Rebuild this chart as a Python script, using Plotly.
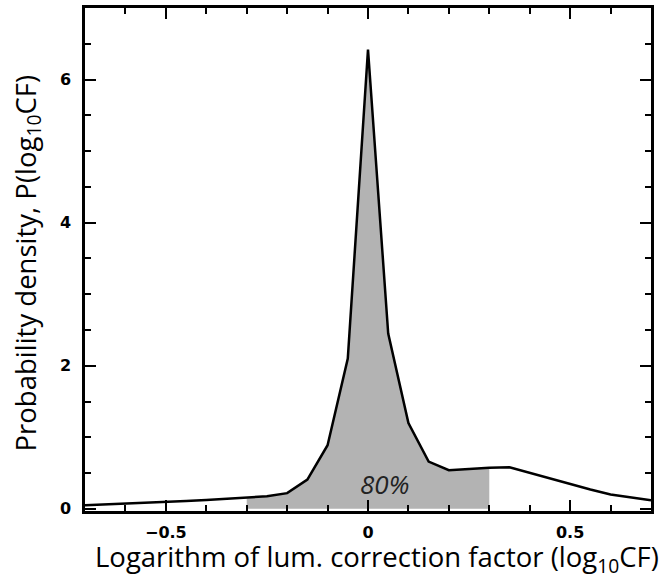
import plotly.graph_objects as go

# Data
log_cf = [-0.70, -0.65, -0.60, -0.55, -0.50, -0.45, -0.40, -0.35, -0.30, -0.25,
          -0.20, -0.15, -0.10, -0.05, 0.00, 0.05, 0.10, 0.15, 0.20, 0.25,
          0.30, 0.35, 0.40, 0.45, 0.50, 0.55, 0.60, 0.65, 0.70]
density = [0.05, 0.06, 0.07, 0.085, 0.10, 0.11, 0.125, 0.14, 0.155, 0.175,
           0.22, 0.41, 0.89, 2.10, 6.42, 2.45, 1.20, 0.66, 0.54, 0.56,
           0.575, 0.58, 0.50, 0.42, 0.35, 0.27, 0.20, 0.155, 0.12]
shade_lo, shade_hi = -0.30, 0.30
shade_label = "80%"
x_title = "Logarithm of lum. correction factor (log<sub>10</sub>CF)"
y_title = "Probability density, P(log<sub>10</sub>CF)"

shade_x = [x for x in log_cf if shade_lo - 1e-9 <= x <= shade_hi + 1e-9]
shade_y = [y for x, y in zip(log_cf, density) if shade_lo - 1e-9 <= x <= shade_hi + 1e-9]

fig = go.Figure()
fig.add_trace(go.Scatter(x=shade_x, y=shade_y, mode="lines", fill="tozeroy",
                         fillcolor="#b3b3b3", line=dict(color="white", width=1),
                         hoverinfo="skip", showlegend=False))
fig.add_trace(go.Scatter(x=log_cf, y=density, mode="lines",
                         line=dict(color="black", width=2.5), showlegend=False))

fig.add_annotation(x=0.04, y=0.35, xref="x", yref="y", text=shade_label, showarrow=False,
                   font=dict(family="Open Sans", size=26, color="#222", style="italic"))

W, H = 666, 579
L, R, T, B = 85, 15, 5, 68
pw, ph = W - L - R, H - T - B

fig.add_annotation(x=(376.5 - L) / pw, y=(H - B - 559) / ph, xref="paper", yref="paper",
                   text=x_title, showarrow=False, xanchor="center", yanchor="middle",
                   borderpad=0,
                   font=dict(family="Open Sans", size=27.5, color="black"))
fig.add_annotation(x=(27 - L) / pw, y=(H - B - 262) / ph, xref="paper", yref="paper",
                   text=y_title, showarrow=False, textangle=-90, xanchor="center", yanchor="middle",
                   borderpad=0,
                   font=dict(family="Open Sans", size=27.5, color="black"))

axis_common = dict(showgrid=False, zeroline=False, showline=True, linecolor="black",
                   linewidth=2.5, mirror="allticks", ticks="inside", tickwidth=2,
                   tickcolor="black",
                   tickfont=dict(family="DejaVu Sans", size=16, color="black", weight="bold"))

fig.update_xaxes(range=[-0.7, 0.7], tick0=-0.5, dtick=0.5, ticklen=11,
                 minor=dict(tick0=0, dtick=0.1, ticks="inside", ticklen=6, tickwidth=2, tickcolor="black"),
                 ticklabelstandoff=5, **axis_common)
fig.update_yaxes(range=[-0.03, 7], tick0=0, dtick=2, ticklen=11,
                 minor=dict(tick0=0, dtick=0.5, ticks="inside", ticklen=6, tickwidth=2, tickcolor="black"),
                 ticklabelstandoff=8, **axis_common)

fig.update_layout(width=W, height=H, margin=dict(l=L, r=R, t=T, b=B),
                  plot_bgcolor="white", paper_bgcolor="white")

fig.write_html("out.html", config={"displayModeBar": False},
               post_script="document.body.style.margin='0';document.body.style.overflow='hidden';")
